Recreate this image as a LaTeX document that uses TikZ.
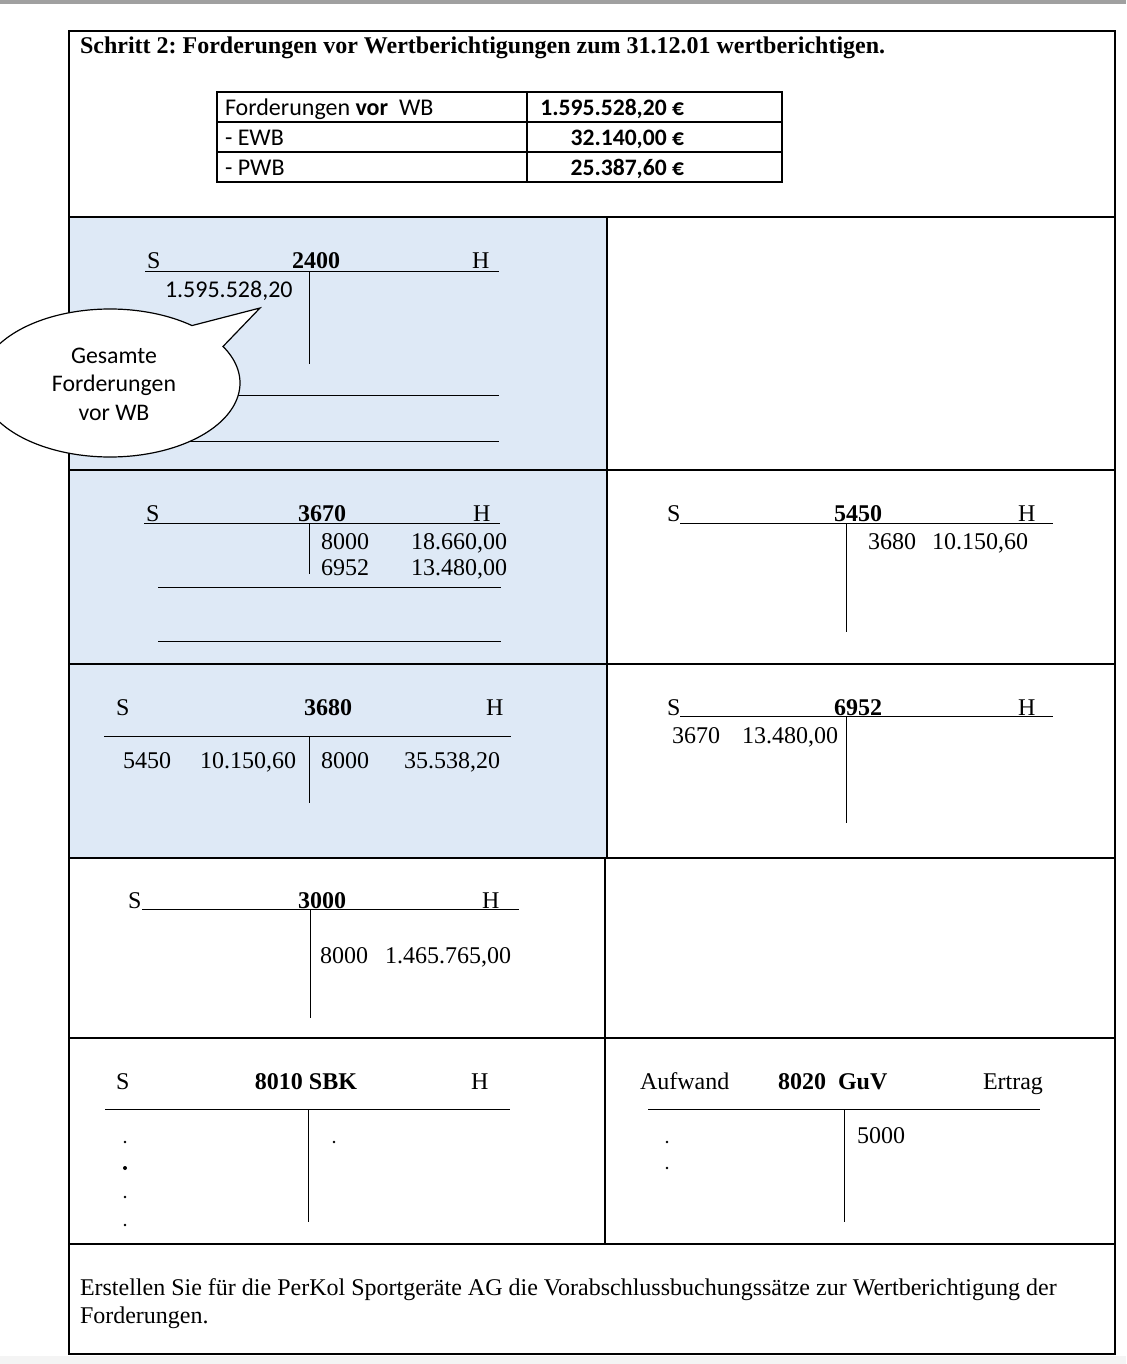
\documentclass[tikz,border=0pt]{standalone}
\usepackage{fontspec}
\setmainfont{Liberation Serif}
\newfontfamily\calfont{Carlito}
\definecolor{cellblue}{RGB}{222,233,246}
\definecolor{topbar}{RGB}{160,160,160}
\definecolor{botgray}{RGB}{244,244,244}
\frenchspacing
\begin{document}
\begin{tikzpicture}[x=0.5pt,y=-0.5pt,
  tt/.style={font=\fontsize{12}{14}\selectfont, inner sep=0pt, outer sep=0pt},
  tb/.style={font=\fontsize{12}{14}\selectfont\bfseries, inner sep=0pt, outer sep=0pt},
  cal/.style={font=\calfont\fontsize{12}{14}\selectfont, inner sep=0pt, outer sep=0pt},
  calb/.style={font=\calfont\fontsize{11.8}{14}\selectfont\bfseries, inner sep=0pt, outer sep=0pt},
  bub/.style={font=\calfont\fontsize{11.9}{14}\selectfont, inner sep=0pt, outer sep=0pt},
  tline/.style={line width=0.5pt},
  frameline/.style={line width=1.25pt},
  tabline/.style={line width=1pt},
  dotmark/.style={fill=black, draw=none}]
\useasboundingbox (0,0) rectangle (1126,1364);
\clip (0,0) rectangle (1126,1364);
% background bands
\fill[topbar] (0,0) rectangle (1126,4);
\fill[botgray] (0,1356) rectangle (1126,1364);
\fill[cellblue] (69,217) rectangle (607,858);
% frame
\draw[frameline] (69,31) rectangle (1115,1354);
\foreach \yy in {217,470,664,858,1038,1244} \draw[frameline] (69,\yy) -- (1115,\yy);
\draw[frameline] (607,217) -- (607,858);
\draw[frameline] (605,858) -- (605,1244);
% title
\node[tb, anchor=base west] (title) at (80,54) {Schritt 2: Forderungen vor Wertberichtigungen zum 31.12.01 wertberichtigen.};
% table
\draw[tabline] (217,92) rectangle (782,182);
\draw[tabline] (217,122) -- (782,122);
\draw[tabline] (217,152) -- (782,152);
\draw[tabline] (527,92) -- (527,182);
\node[cal, anchor=base west] (r1l) at (225,116) {Forderungen \textbf{vor}\ \ WB};
\node[cal, anchor=base west] (r2l) at (225,146) {- EWB};
\node[cal, anchor=base west] (r3l) at (225,176) {- PWB};
\node[calb, anchor=base east] (r1v) at (684,116) {1.595.528,20 €};
\node[calb, anchor=base east] (r2v) at (684,146) {32.140,00 €};
\node[calb, anchor=base east] (r3v) at (684,176) {25.387,60 €};
% account 2400
\node[tt, anchor=base west] (a2400s) at (147,269) {S};
\node[tb, anchor=base] (a2400n) at (316,269) {2400};
\node[tt, anchor=base west] (a2400h) at (472,269) {H};
\draw[tline] (145,271) -- (499,271);
\draw[tline] (309,271) -- (309,364);
\node[cal, anchor=base west] (a2400v) at (165,297) {1.595.528,20};
\draw[tline] (158,395) -- (499,395);
\draw[tline] (158,441) -- (499,441);
% callout bubble
\filldraw[fill=white, draw=black, line width=0.6pt]
  plot[domain=50.9:389.6, samples=160, smooth] ({110+130*cos(\x)},{383-74*sin(\x)})
  -- (260,308) -- cycle;
\node[bub, anchor=base] (bub1) at (114,363) {Gesamte};
\node[bub, anchor=base] (bub2) at (114,391) {Forderungen};
\node[bub, anchor=base] (bub3) at (114,420) {vor WB};
% account 3670
\node[tt, anchor=base west] (a3670s) at (146,521) {S};
\node[tb, anchor=base] (a3670n) at (322,521) {3670};
\node[tt, anchor=base west] (a3670h) at (473,521) {H};
\draw[tline] (144,523) -- (500,523);
\draw[tline] (309,523) -- (309,574);
\node[tt, anchor=base west] (a3670a) at (321,549) {8000};
\node[tt, anchor=base east] (a3670b) at (507,549) {18.660,00};
\node[tt, anchor=base west] (a3670c) at (321,575) {6952};
\node[tt, anchor=base east] (a3670d) at (507,575) {13.480,00};
\draw[tline] (158,587) -- (501,587);
\draw[tline] (158,641) -- (501,641);
% account 3680
\node[tt, anchor=base west] (a3680s) at (116,715) {S};
\node[tb, anchor=base] (a3680n) at (328,715) {3680};
\node[tt, anchor=base west] (a3680h) at (486,715) {H};
\draw[tline] (104,736) -- (511,736);
\draw[tline] (309,736) -- (309,803);
\node[tt, anchor=base west] (a3680a) at (123,768) {5450};
\node[tt, anchor=base east] (a3680b) at (296,768) {10.150,60};
\node[tt, anchor=base west] (a3680c) at (321,768) {8000};
\node[tt, anchor=base east] (a3680d) at (500,768) {35.538,20};
% account 5450
\node[tt, anchor=base west] (a5450s) at (667,521) {S};
\node[tb, anchor=base] (a5450n) at (858,521) {5450};
\node[tt, anchor=base west] (a5450h) at (1018,521) {H};
\draw[tline] (680,523) -- (1053,523);
\draw[tline] (846,523) -- (846,632);
\node[tt, anchor=base west] (a5450a) at (868,549) {3680};
\node[tt, anchor=base east] (a5450b) at (1028,549) {10.150,60};
% account 6952
\node[tt, anchor=base west] (a6952s) at (667,715) {S};
\node[tb, anchor=base] (a6952n) at (858,715) {6952};
\node[tt, anchor=base west] (a6952h) at (1018,715) {H};
\draw[tline] (680,716) -- (1053,716);
\draw[tline] (846,716) -- (846,823);
\node[tt, anchor=base west] (a6952a) at (672,743) {3670};
\node[tt, anchor=base east] (a6952b) at (838,743) {13.480,00};
% account 3000
\node[tt, anchor=base west] (a3000s) at (128,908) {S};
\node[tb, anchor=base] (a3000n) at (322,908) {3000};
\node[tt, anchor=base west] (a3000h) at (482,908) {H};
\draw[tline] (142,909) -- (519,909);
\draw[tline] (310,909) -- (310,1018);
\node[tt, anchor=base west] (a3000a) at (320,963) {8000};
\node[tt, anchor=base east] (a3000b) at (511,963) {1.465.765,00};
% account 8010 SBK
\node[tt, anchor=base west] (sbks) at (116,1089) {S};
\node[tb, anchor=base] (sbkn) at (306,1089) {8010 SBK};
\node[tt, anchor=base west] (sbkh) at (471,1089) {H};
\draw[tline] (105,1109) -- (510,1109);
\draw[tline] (308,1110) -- (308,1222);
\fill[dotmark] (125,1142) circle[radius=1.3];
\fill[dotmark] (125,1168) circle[radius=2];
\fill[dotmark] (125,1197) circle[radius=1.3];
\fill[dotmark] (125,1225) circle[radius=1.3];
\fill[dotmark] (334,1142) circle[radius=1.3];
% account 8020 GuV
\node[tt, anchor=base west] (guva) at (640,1089) {Aufwand};
\node[tb, anchor=base west] (guvn) at (778,1089) {8020\ \ GuV};
\node[tt, anchor=base west] (guve) at (983,1089) {Ertrag};
\draw[tline] (648,1109) -- (1040,1109);
\draw[tline] (844,1110) -- (844,1222);
\node[tt, anchor=base west] (guvv) at (857,1143) {5000};
\fill[dotmark] (667,1142) circle[radius=1.3];
\fill[dotmark] (667,1168) circle[radius=1.3];
% task text
\node[tt, anchor=base west] (task1) at (80,1295) {Erstellen Sie für die PerKol Sportgeräte AG die Vorabschlussbuchungssätze zur Wertberichtigung der};
\node[tt, anchor=base west] (task2) at (80,1323) {Forderungen.};
\end{tikzpicture}
\end{document}
